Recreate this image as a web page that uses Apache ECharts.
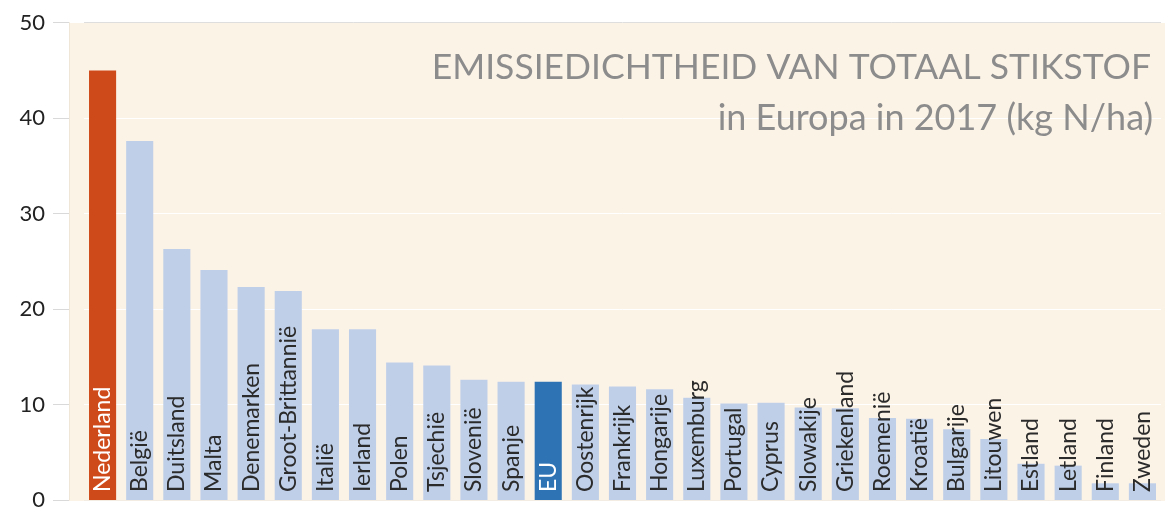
<!DOCTYPE html>
<html><head><meta charset="utf-8">
<script src="https://cdn.jsdelivr.net/npm/echarts@6/dist/echarts.min.js"></script>
<style>html,body{margin:0;padding:0;background:#fff}#c{width:1165px;height:511px}</style>
</head><body><div id="c"></div>
<script>
const categories = ['Nederland','België','Duitsland','Malta','Denemarken','Groot-Brittannië','Italië','Ierland','Polen','Tsjechië','Slovenië','Spanje','EU','Oostenrijk','Frankrijk','Hongarije','Luxemburg','Portugal','Cyprus','Slowakije','Griekenland','Roemenië','Kroatië','Bulgarije','Litouwen','Estland','Letland','Finland','Zweden'];
const values = [45.0,37.6,26.3,24.1,22.3,21.9,17.9,17.9,14.4,14.1,12.6,12.4,12.4,12.1,11.9,11.6,10.7,10.1,10.2,9.7,9.6,8.6,8.5,7.4,6.4,3.8,3.6,1.75,1.75];
const highlight = {'Nederland':'#cf4a1b','EU':'#2e74b5'};
const titleLine1 = 'EMISSIEDICHTHEID VAN TOTAAL STIKSTOF';
const titleLine2 = 'in Europa in 2017 (kg N/ha)';

const chart = echarts.init(document.getElementById('c'), null, {renderer:'canvas'});
const font = 'Lato, "Open Sans", sans-serif';
chart.setOption({
  backgroundColor:'#ffffff',
  animation:false,
  graphic:[
    {type:'rect',z:-10,silent:true,shape:{x:69,y:23,width:1096,height:478},style:{fill:'#fcf3e7'}},
    {type:'text',z:10,silent:true,x:1151,y:50,style:{text:titleLine1,align:'right',verticalAlign:'top',font:'normal 35.5px '+font,fill:'#8c8c8c'}},
    {type:'text',z:10,silent:true,x:1153,y:100,style:{text:titleLine2,align:'right',verticalAlign:'top',font:'normal 36px '+font,fill:'#8c8c8c'}}
  ],
  grid:{left:84,right:4,top:22.7,bottom:10},
  xAxis:{type:'category',data:categories,axisLine:{show:false},axisTick:{show:false},axisLabel:{show:false}},
  yAxis:{type:'value',min:0,max:50,interval:10,offset:15,
    axisLine:{show:true,lineStyle:{color:'#efe6d8',width:1}},
    axisTick:{show:true,length:16,lineStyle:{color:'#d9d9d9'}},
    axisLabel:{margin:24,fontFamily:font,fontSize:22,color:'#222'},
    splitLine:{show:true,lineStyle:{color:['#f3ece2','#ffffff','#ffffff','#ffffff','#ffffff','#dedede'],width:1}}},
  series:[{type:'bar',barCategoryGap:'27%',
    data:values.map((v,i)=>({value:v,itemStyle:{color:highlight[categories[i]]||'#bfcfe8'},
      label:{color:highlight[categories[i]]?'#ffffff':'#2b2b2b'}})),
    label:{show:true,position:'insideBottom',rotate:90,align:'left',verticalAlign:'middle',distance:8,
      formatter:'{b}',fontFamily:font,fontSize:23,color:'#2b2b2b'}
  }]
});
</script></body></html>
